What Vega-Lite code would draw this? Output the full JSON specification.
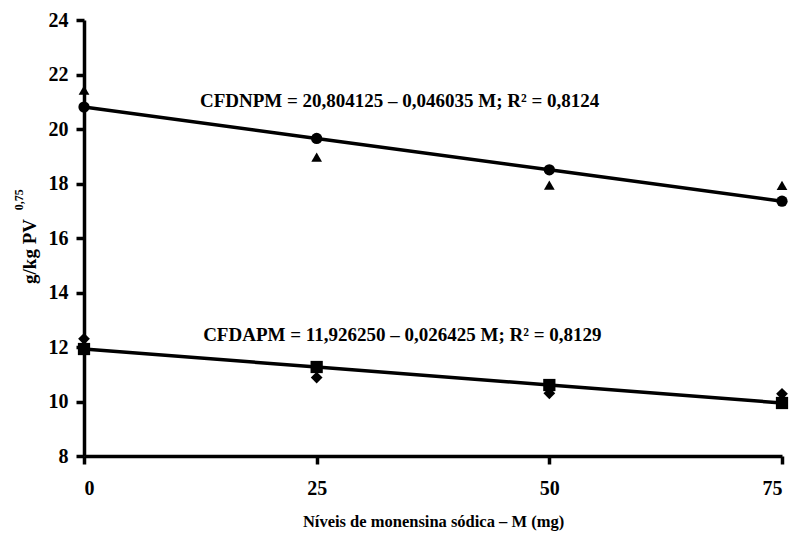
{
  "$schema": "https://vega.github.io/schema/vega-lite/v6.json",
  "width": 698,
  "height": 436,
  "autosize": {"type": "none"},
  "padding": {"left": 84, "top": 20, "right": 14, "bottom": 80},
  "background": "white",
  "config": {
    "view": {"stroke": null},
    "font": "Liberation Serif",
    "axis": {
      "grid": false,
      "domainColor": "black",
      "domainWidth": 3.5,
      "tickColor": "black",
      "tickWidth": 3.5,
      "tickSize": 8,
      "labelFont": "Liberation Serif",
      "labelFontWeight": "bold",
      "labelFontSize": 20,
      "labelColor": "black",
      "titleFont": "Liberation Serif",
      "titleFontWeight": "bold",
      "titleFontSize": 17,
      "titleColor": "black"
    }
  },
  "datasets": {
    "pontos": [
      {"M": 0, "valor": 21.43, "grupo": "CFDNPM observado"},
      {"M": 25, "valor": 18.97, "grupo": "CFDNPM observado"},
      {"M": 50, "valor": 17.94, "grupo": "CFDNPM observado"},
      {"M": 75, "valor": 17.93, "grupo": "CFDNPM observado"},
      {"M": 0, "valor": 20.804, "grupo": "CFDNPM estimado"},
      {"M": 25, "valor": 19.653, "grupo": "CFDNPM estimado"},
      {"M": 50, "valor": 18.502, "grupo": "CFDNPM estimado"},
      {"M": 75, "valor": 17.351, "grupo": "CFDNPM estimado"},
      {"M": 0, "valor": 12.3, "grupo": "CFDAPM observado"},
      {"M": 25, "valor": 10.88, "grupo": "CFDAPM observado"},
      {"M": 50, "valor": 10.3, "grupo": "CFDAPM observado"},
      {"M": 75, "valor": 10.28, "grupo": "CFDAPM observado"},
      {"M": 0, "valor": 11.926, "grupo": "CFDAPM estimado"},
      {"M": 25, "valor": 11.266, "grupo": "CFDAPM estimado"},
      {"M": 50, "valor": 10.605, "grupo": "CFDAPM estimado"},
      {"M": 75, "valor": 9.945, "grupo": "CFDAPM estimado"}
    ]
  },
  "layer": [
    {
      "data": {"name": "pontos"},
      "transform": [{"filter": "indexof(datum.grupo, 'estimado') >= 0"}],
      "mark": {"type": "line", "color": "black", "strokeWidth": 3.5},
      "encoding": {
        "x": {
          "field": "M", "type": "quantitative",
          "scale": {"domain": [0, 75], "nice": false, "zero": false},
          "axis": {
            "values": [0, 25, 50, 75],
            "title": "Níveis de monensina sódica – M (mg)",
            "labelPadding": 14,
            "titleY": 65,
            "titleBaseline": "middle",
            "titleFontSize": 16.5
          }
        },
        "y": {
          "field": "valor", "type": "quantitative",
          "scale": {"domain": [8, 24], "nice": false, "zero": false},
          "axis": {
            "values": [8, 10, 12, 14, 16, 18, 20, 22, 24],
            "title": "g/kg PV",
            "labelPadding": 8,
            "titleX": -55,
            "titleY": 231,
            "titleBaseline": "middle",
            "titleFontSize": 19
          }
        },
        "detail": {"field": "grupo"}
      }
    },
    {
      "data": {"name": "pontos"},
      "mark": {"type": "point", "filled": true, "opacity": 1, "color": "black"},
      "encoding": {
        "x": {"field": "M", "type": "quantitative"},
        "y": {"field": "valor", "type": "quantitative"},
        "shape": {
          "field": "grupo", "type": "nominal",
          "scale": {
            "domain": ["CFDNPM observado", "CFDNPM estimado", "CFDAPM observado", "CFDAPM estimado"],
            "range": ["triangle-up", "circle", "diamond", "square"]
          },
          "legend": null
        },
        "size": {
          "field": "grupo", "type": "nominal",
          "scale": {
            "domain": ["CFDNPM observado", "CFDNPM estimado", "CFDAPM observado", "CFDAPM estimado"],
            "range": [115, 150, 130, 130]
          },
          "legend": null
        }
      }
    },
    {
      "data": {"values": [{}]},
      "mark": {"type": "text", "align": "center", "baseline": "middle", "angle": 270, "font": "Liberation Serif", "fontWeight": "bold", "fontSize": 12, "color": "black"},
      "encoding": {
        "x": {"datum": -7.0, "type": "quantitative"},
        "y": {"datum": 17.4, "type": "quantitative"},
        "text": {"value": "0,75"}
      }
    },
    {
      "data": {"values": [{}]},
      "mark": {"type": "text", "align": "left", "baseline": "middle", "font": "Liberation Serif", "fontWeight": "bold", "fontSize": 19, "color": "black"},
      "encoding": {
        "x": {"datum": 12.46, "type": "quantitative"},
        "y": {"datum": 21.03, "type": "quantitative"},
        "text": {"value": "CFDNPM = 20,804125 – 0,046035 M; R² = 0,8124"}
      }
    },
    {
      "data": {"values": [{}]},
      "mark": {"type": "text", "align": "left", "baseline": "middle", "font": "Liberation Serif", "fontWeight": "bold", "fontSize": 19, "color": "black"},
      "encoding": {
        "x": {"datum": 12.8, "type": "quantitative"},
        "y": {"datum": 12.44, "type": "quantitative"},
        "text": {"value": "CFDAPM = 11,926250 – 0,026425 M; R² = 0,8129"}
      }
    }
  ]
}
